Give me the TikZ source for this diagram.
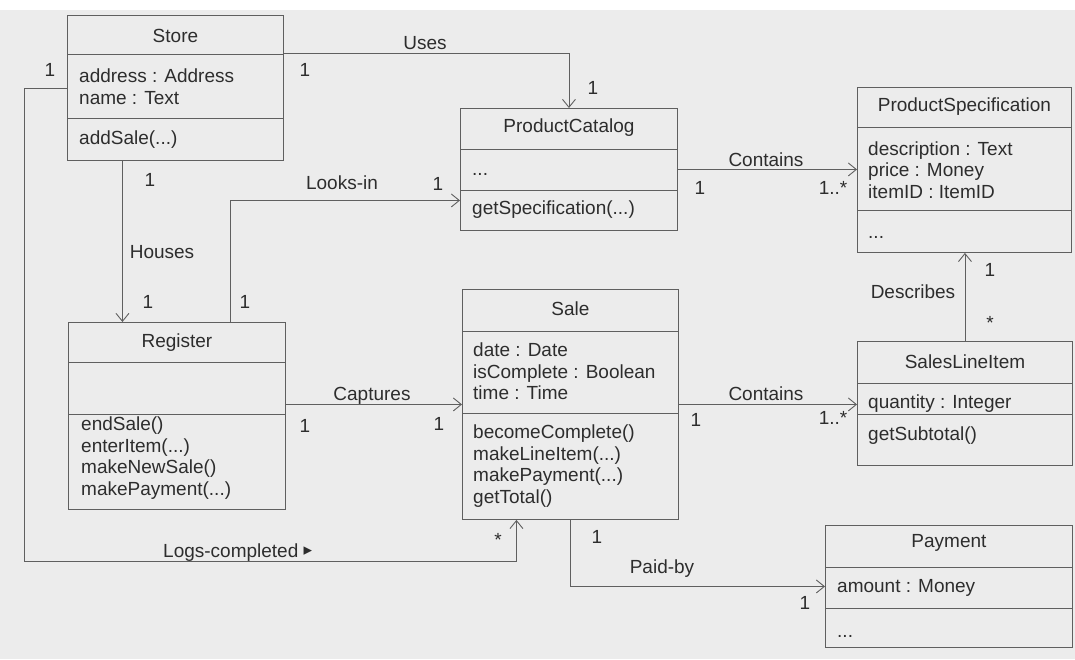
\documentclass[tikz,border=0pt]{standalone}
\usepackage{fontspec}
\setmainfont{Liberation Sans}
\newfontfamily\symfont{DejaVu Sans}
\usetikzlibrary{arrows.meta}

\definecolor{scanbg}{RGB}{236,236,236}
\definecolor{ink}{RGB}{45,45,45}
\definecolor{wire}{RGB}{95,95,95}

\tikzset{
  umltext/.style={text=ink, font=\fontsize{19}{21.5}\selectfont},
  classbox/.style={draw=wire, line width=0.9pt, anchor=north west, inner sep=0pt},
  classname/.style={umltext},
  members/.style={umltext, anchor=west, align=left, inner sep=0pt},
  sep/.style={draw=wire, line width=0.9pt},
  assoc/.style={draw=wire, line width=0.9pt, -{Straight Barb[length=8pt,width=13pt]}},
  lbl/.style={umltext, inner sep=0pt},
}

\begin{document}
\begin{tikzpicture}[x=1pt,y=-1pt]
    % Page and scanned paper tone
    \useasboundingbox (0,0) rectangle (1075,659);
    \fill[scanbg] (0,0) rectangle (1075,659);
    \fill[white] (0,0) rectangle (1075,10);

    % Store
    \node[classbox, minimum width=216, minimum height=145] (store) at (67,15) {};
    \node[classname] (store-name) at ([yshift=-21pt]store.north) {Store};
    \draw[sep] (67,54) -- (283,54);
    \draw[sep] (67,118) -- (283,118);
    \node[members] (store-attr) at (79,86.5) {address : Address\\name : Text};
    \node[members] (store-ops) at (79,140) {addSale(...)};

    % ProductCatalog
    \node[classbox, minimum width=217, minimum height=122] (catalog) at (460,108) {};
    \node[classname] (catalog-name) at ([yshift=-20pt]catalog.north) {ProductCatalog};
    \draw[sep] (460,149) -- (677,149);
    \draw[sep] (460,190) -- (677,190);
    \node[members] (catalog-attr) at (472,174) {...};
    \node[members] (catalog-ops) at (472,210) {getSpecification(...)};

    % ProductSpecification
    \node[classbox, minimum width=214, minimum height=165] (spec) at (857,87) {};
    \node[classname] (spec-name) at ([yshift=-20pt]spec.north) {ProductSpecification};
    \draw[sep] (857,127) -- (1071,127);
    \draw[sep] (857,210) -- (1071,210);
    \node[members] (spec-attr) at (868,170) {description : Text\\price : Money\\itemID : ItemID};
    \node[members] (spec-ops) at (868,237) {...};

    % Register
    \node[classbox, minimum width=217, minimum height=187] (register) at (68,322) {};
    \node[classname] (register-name) at ([yshift=-21pt]register.north) {Register};
    \draw[sep] (68,362) -- (285,362);
    \draw[sep] (68,414) -- (285,414);
    \node[members] (register-ops) at (81,458) {endSale()\\enterItem(...)\\makeNewSale()\\makePayment(...)};

    % Sale
    \node[classbox, minimum width=216, minimum height=230] (sale) at (462,289) {};
    \node[classname] (sale-name) at ([yshift=-20pt]sale.north) {Sale};
    \draw[sep] (462,331) -- (678,331);
    \draw[sep] (462,413) -- (678,413);
    \node[members] (sale-attr) at (473,371.5) {date : Date\\isComplete : Boolean\\time : Time};
    \node[members] (sale-ops) at (473,466) {becomeComplete()\\makeLineItem(...)\\makePayment(...)\\getTotal()};

    % SalesLineItem
    \node[classbox, minimum width=215, minimum height=124] (lineitem) at (857,341) {};
    \node[classname] (lineitem-name) at ([yshift=-21pt]lineitem.north) {SalesLineItem};
    \draw[sep] (857,383) -- (1072,383);
    \draw[sep] (857,414) -- (1072,414);
    \node[members] (lineitem-attr) at (868,404) {quantity : Integer};
    \node[members] (lineitem-ops) at (868,436) {getSubtotal()};

    % Payment
    \node[classbox, minimum width=247, minimum height=122] (payment) at (825,525) {};
    \node[classname] (payment-name) at ([yshift=-18pt]payment.north) {Payment};
    \draw[sep] (825,567) -- (1072,567);
    \draw[sep] (825,608) -- (1072,608);
    \node[members] (payment-attr) at (837,588) {amount : Money};
    \node[members] (payment-ops) at (837,636) {...};

    % Associations
    \coordinate (houses-top) at ([xshift=-53pt]store.south);
    \coordinate (looks-foot) at ([xshift=53.5pt]register.north);
    \coordinate (looks-end) at ([yshift=-31pt]catalog.west);
    \coordinate (logs-corner) at (24,561);
    \coordinate (logs-end) at ([xshift=-54pt]sale.south);

    \draw[assoc] ([yshift=35pt]store.east) -| (catalog.north);
    \draw[assoc] (looks-foot) |- (looks-end);
    \draw[assoc] (catalog.east) -- (catalog.east -| spec.west);
    \draw[assoc] (houses-top) -- (houses-top |- register.north);
    \draw[assoc] (sale.west -| register.east) -- (sale.west);
    \draw[assoc] (sale.east) -- (sale.east -| lineitem.west);
    \draw[assoc] (lineitem.north) -- (lineitem.north |- spec.south);
    \draw[assoc] (sale.south) |- (payment.west);
    \draw[assoc] (store.west) -| (logs-corner) -| (logs-end);

    % Association names and multiplicities
    \node[lbl] (uses-lbl) at (425,43) {Uses};
    \node[lbl] (uses-m1) at (305,70) {1};
    \node[lbl] (uses-m2) at (593,88) {1};
    \node[lbl] (logs-m1) at (50,70) {1};
    \node[lbl] (houses-m1) at (150,180) {1};
    \node[lbl] (houses-lbl) at (162,252) {Houses};
    \node[lbl] (houses-m2) at (148,302) {1};
    \node[lbl] (looks-lbl) at (342,183) {Looks-in};
    \node[lbl] (looks-m1) at (245,302) {1};
    \node[lbl] (looks-m2) at (438,184) {1};
    \node[lbl] (contains-lbl) at (766,160) {Contains};
    \node[lbl] (contains-m1) at (700,188) {1};
    \node[lbl] (contains-m2) at (833,188) {1..*};
    \node[lbl] (describes-m1) at (990,270) {1};
    \node[lbl] (describes-lbl) at (913,292) {Describes};
    \node[lbl] (describes-m2) at (990,323) {*};
    \node[lbl] (captures-lbl) at (372,396) {Captures};
    \node[lbl] (captures-m1) at (305,426) {1};
    \node[lbl] (captures-m2) at (439,424) {1};
    \node[lbl] (items-lbl) at (766,394) {Contains};
    \node[lbl] (items-m1) at (696,420) {1};
    \node[lbl] (items-m2) at (833,418) {1..*};
    \node[lbl] (paid-m1) at (597,537) {1};
    \node[lbl] (paid-lbl) at (662,569) {Paid-by};
    \node[lbl] (paid-m2) at (805,603) {1};
    \node[lbl] (logs-m2) at (498,540) {*};
    \node[lbl, anchor=west] (logs-lbl) at (163,553) {Logs-completed {\symfont\fontsize{17}{17}\selectfont\raisebox{2pt}{▸}}};
\end{tikzpicture}
\end{document}
